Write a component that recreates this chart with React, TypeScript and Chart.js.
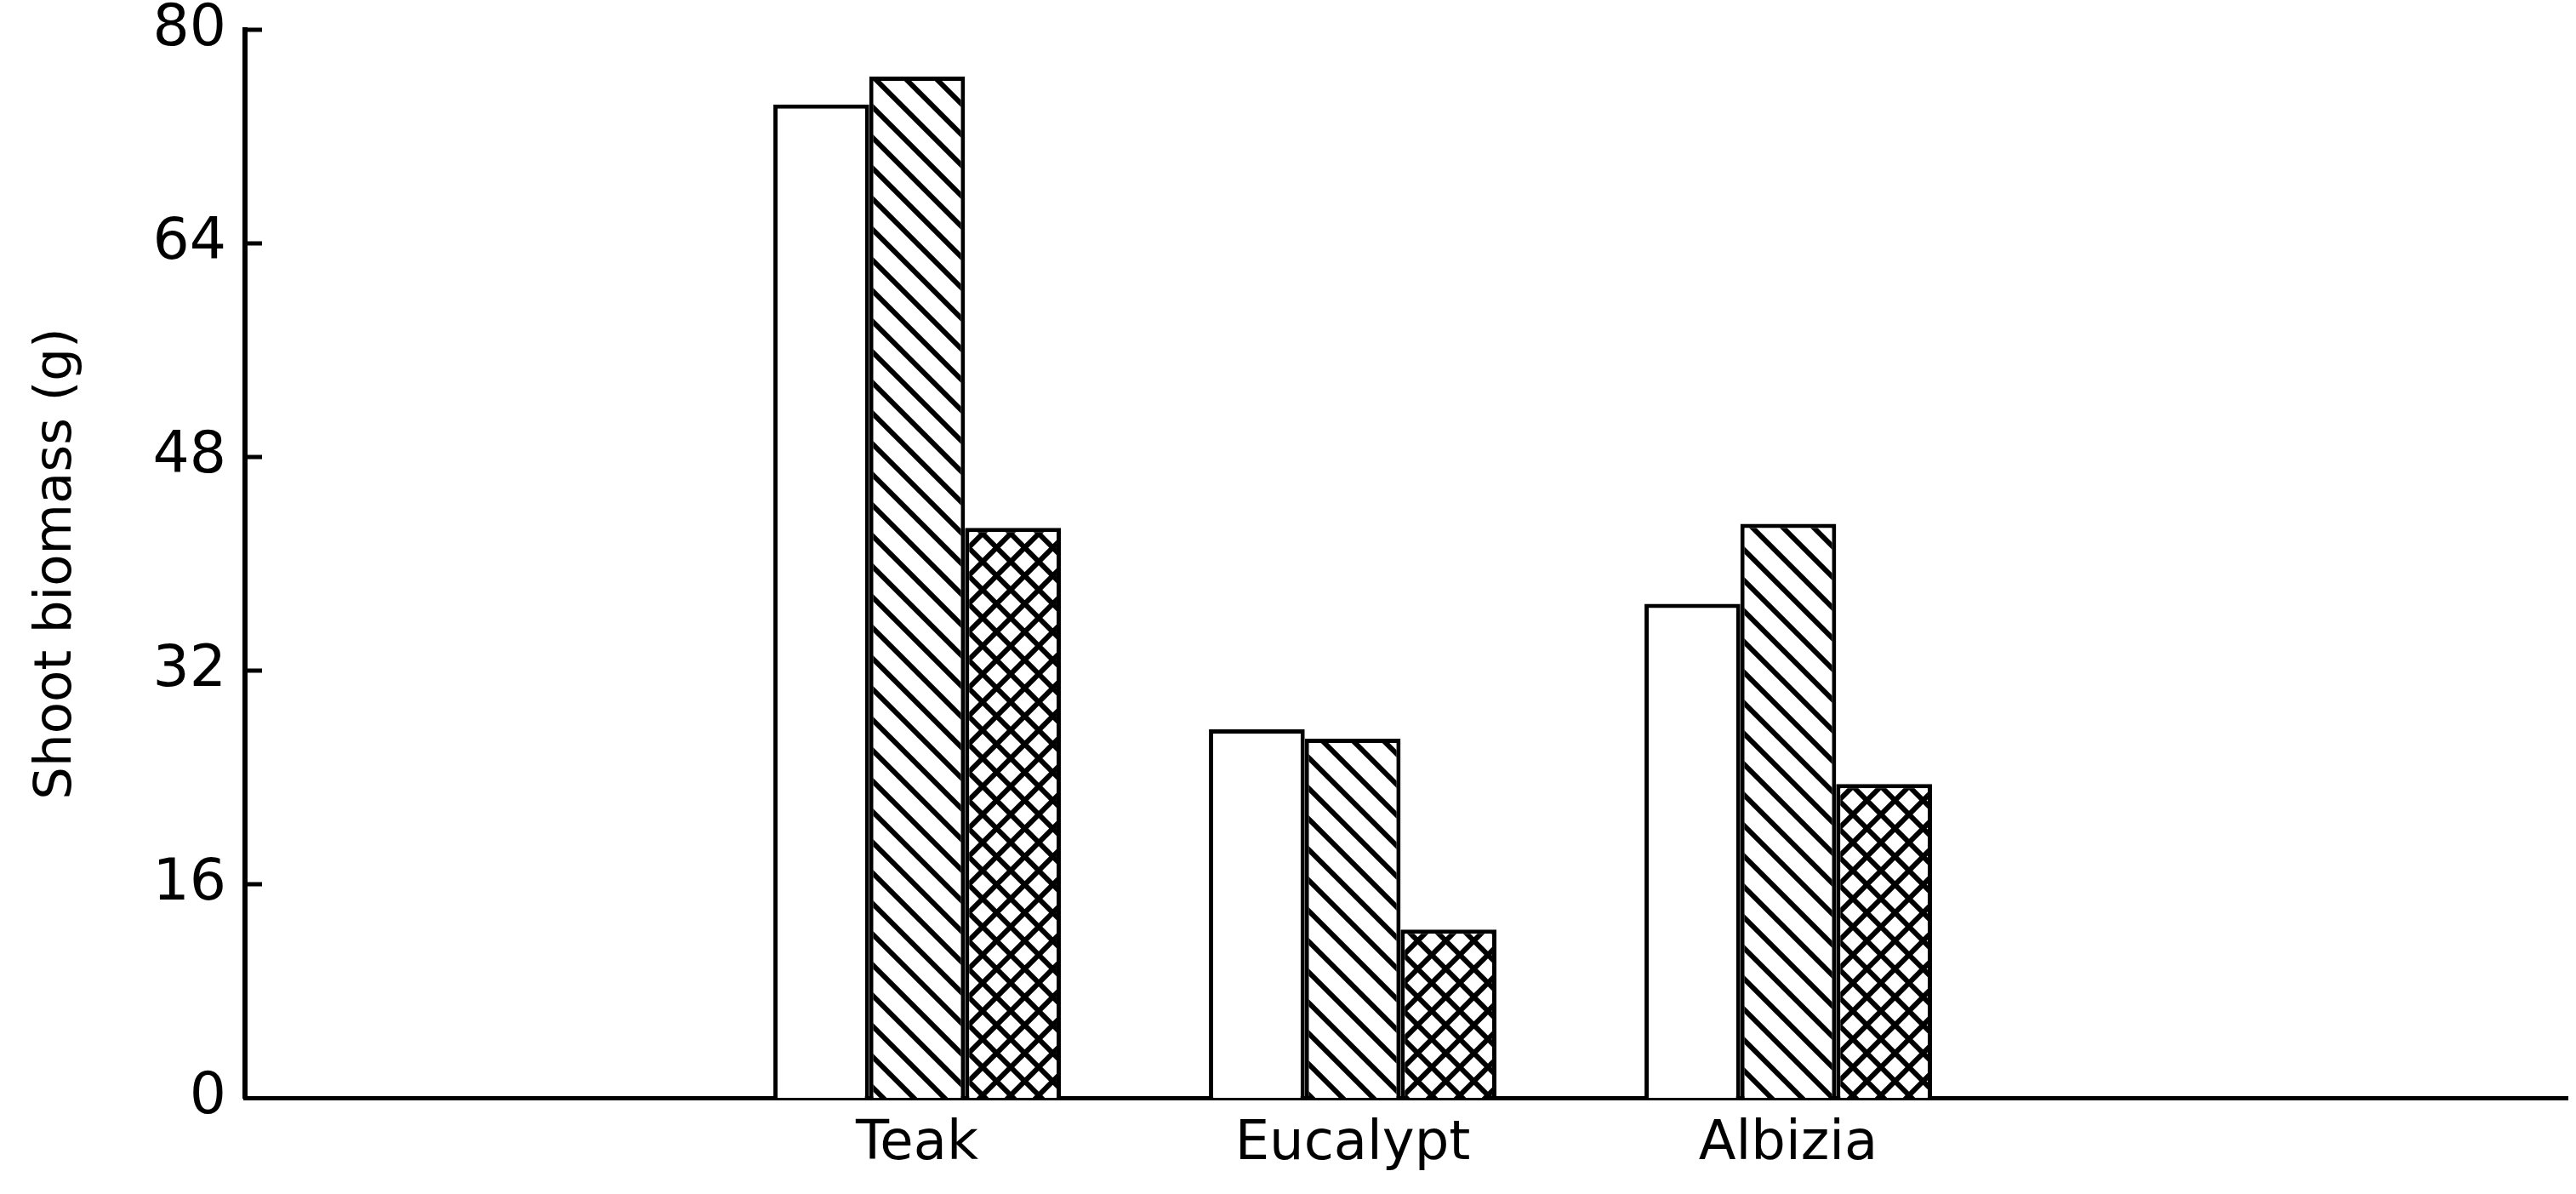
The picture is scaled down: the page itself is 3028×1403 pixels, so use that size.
import React, { useEffect, useRef } from 'react';
import { Chart, registerables } from 'chart.js';

Chart.register(...registerables);

// ---- data ----
const categories = ['Teak', 'Eucalypt', 'Albizia'];
const categoryPositions = [1, 2, 3];
const seriesOpen = [74.4, 27.6, 37.0];
const seriesHatched = [76.5, 26.9, 43.0];
const seriesCross = [42.7, 12.6, 23.5];
const yTicks = [0, 16, 32, 48, 64, 80];
const yTickLabels = ['0', '16', '32', '48', '64', '80'];
const yTitle = 'Shoot biomass (g)';

function makePattern(size: number, lw: number, cross: boolean) {
  const c = document.createElement('canvas');
  c.width = size;
  c.height = size;
  const g = c.getContext('2d')!;
  g.fillStyle = '#ffffff';
  g.fillRect(0, 0, size, size);
  g.strokeStyle = '#000000';
  g.lineWidth = lw;
  g.beginPath();
  for (const k of [-1, 0, 1]) {
    g.moveTo(k * size - size, -size);
    g.lineTo(k * size + 2 * size, 2 * size);
    if (cross) {
      g.moveTo(k * size + 2 * size, -size);
      g.lineTo(k * size - size, 2 * size);
    }
  }
  g.stroke();
  return g.createPattern(c, 'repeat')!;
}

const innerTicks = {
  id: 'innerTicks',
  afterDraw(chart: any) {
    const y = chart.scales.y;
    const ctx = chart.ctx;
    ctx.save();
    ctx.strokeStyle = '#000';
    ctx.lineWidth = 5;
    const x0 = chart.chartArea.left;
    for (const v of yTicks) {
      if (v === 0) continue;
      const py = y.getPixelForValue(v);
      ctx.beginPath();
      ctx.moveTo(x0, py);
      ctx.lineTo(x0 + 20, py);
      ctx.stroke();
    }
    ctx.restore();
  },
};

export default function App() {
  const ref = useRef<HTMLCanvasElement>(null);
  useEffect(() => {
    document.body.style.margin = '0';
    const hatch = makePattern(36, 6, false);
    const crossP = makePattern(33, 6, true);
    const mk = (vals: number[]) => vals.map((v, i) => ({ x: categoryPositions[i], y: v }));
    const common = { borderColor: '#000', borderWidth: 5, categoryPercentage: 0.66, barPercentage: 1.0 };
    const chart = new Chart(ref.current!, {
      type: 'bar',
      data: {
        datasets: [
          { label: 'a', data: mk(seriesOpen) as any, backgroundColor: '#ffffff', ...common },
          { label: 'b', data: mk(seriesHatched) as any, backgroundColor: hatch as any, ...common },
          { label: 'c', data: mk(seriesCross) as any, backgroundColor: crossP as any, ...common },
        ],
      },
      options: {
        animation: false,
        responsive: false,
        maintainAspectRatio: false,
        layout: { padding: { left: 0, right: 10, top: 35, bottom: 0 } },
        plugins: { legend: { display: false }, tooltip: { enabled: false } },
        scales: {
          x: {
            type: 'linear',
            min: -0.543,
            max: 4.789,
            offset: false,
            grid: { display: false, drawTicks: false, offset: false },
            border: { display: true, width: 5, color: '#000' },
            afterBuildTicks: (scale: any) => {
              scale.ticks = categoryPositions.map((v) => ({ value: v }));
            },
            afterFit: (scale: any) => {
              scale.height = 113;
            },
            ticks: {
              color: '#000',
              padding: 17,
              autoSkip: false,
              maxRotation: 0,
              font: { family: 'DejaVu Sans', size: 64 },
              callback: (v: any) => categories[categoryPositions.indexOf(Number(v))] ?? '',
            },
          },
          y: {
            type: 'linear',
            min: 0,
            max: 80,
            grid: { display: false, drawTicks: false },
            border: { display: true, width: 6, color: '#000' },
            afterBuildTicks: (scale: any) => {
              scale.ticks = yTicks.map((v) => ({ value: v }));
            },
            afterFit: (scale: any) => {
              scale.width = 288;
            },
            ticks: {
              color: '#000',
              padding: 22,
              font: { family: 'DejaVu Sans', size: 68, lineHeight: 0.3 },
              callback: (v: any) => yTickLabels[yTicks.indexOf(Number(v))] ?? '',
            },
            title: {
              display: true,
              text: yTitle,
              color: '#000',
              font: { family: 'DejaVu Sans', size: 61 },
              padding: { top: 31, bottom: 0 },
            },
          },
        },
      },
      plugins: [innerTicks],
    });
    return () => chart.destroy();
  }, []);
  return (
    <div style={{ width: 3028, height: 1403, background: '#fff' }}>
      <canvas ref={ref} width={3028} height={1403} style={{ display: 'block' }} />
    </div>
  );
}
